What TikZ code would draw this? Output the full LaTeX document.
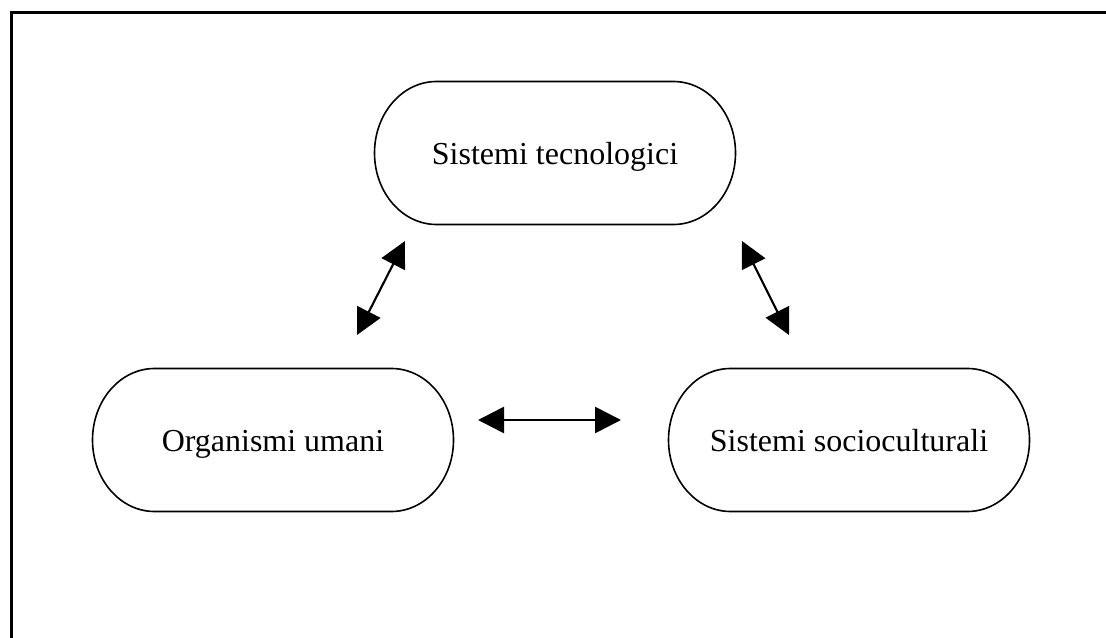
\documentclass[tikz,border=0pt]{standalone}
\usepackage{fontspec}
\setmainfont{Liberation Serif}
\usetikzlibrary{arrows.meta}
\newcommand\capsulepath[1]{%
  \draw[capsule] ([xshift=46.5pt]#1.north west) -- ([xshift=-46.5pt]#1.north east)
    arc[start angle=90,end angle=-90,x radius=46.5pt,y radius=53.625pt]
    -- ([xshift=46.5pt]#1.south west)
    arc[start angle=270,end angle=90,x radius=46.5pt,y radius=53.625pt] -- cycle;}
\begin{document}
\begin{tikzpicture}[x=0.75pt,y=-0.75pt,
  box/.style={minimum width=270.75pt,minimum height=107.25pt,outer sep=0pt,inner sep=0pt,
              text height=17pt,text depth=0pt,
              font=\fontsize{24}{28}\selectfont},
  capsule/.style={line width=1.2pt},
  link/.style={line width=1.6pt,
    {Triangle[length=19.5pt,width=19.5pt]}-{Triangle[length=19.5pt,width=19.5pt]}},
  frame/.style={line width=2.25pt}]
\useasboundingbox (0,0) rectangle (1106,638);
\draw[frame] (11,640) -- (11,13) -- (1108,13);

\node[box] (tec) at (555,153) {Sistemi tecnologici};
\node[box] (org) at (273,440) {Organismi umani};
\node[box] (soc) at (849,440) {Sistemi socioculturali};
\capsulepath{tec}
\capsulepath{org}
\capsulepath{soc}

\coordinate (a1) at (357,335);
\coordinate (a2) at (405,241);
\coordinate (b1) at (742,241);
\coordinate (b2) at (789,335);
\coordinate (c1) at (478,420);
\coordinate (c2) at (621,420);
\draw[link] (a1) -- (a2);
\draw[link] (b1) -- (b2);
\draw[link,line width=2pt] (c1) -- (c2);
\end{tikzpicture}
\end{document}
